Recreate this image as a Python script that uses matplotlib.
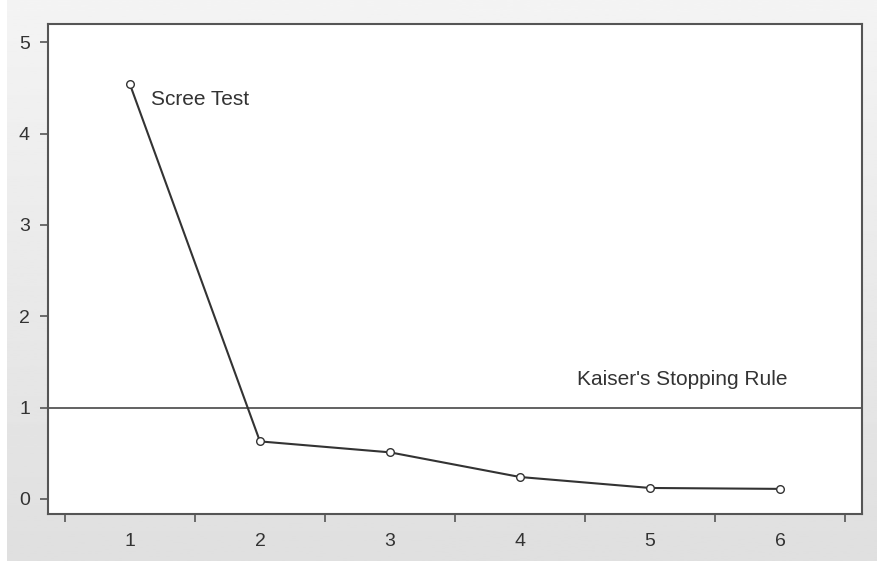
import numpy as np
import matplotlib.pyplot as plt

# eigenvalues per component
components = [1, 2, 3, 4, 5, 6]
eigenvalues = [4.54, 0.63, 0.51, 0.24, 0.12, 0.11]
kaiser_cutoff = 1.0

ink = '#333333'

fig = plt.figure(figsize=(8.78, 5.61), dpi=100, facecolor='white')

# soft grey panel behind the plot
bg = fig.add_axes([7 / 878, 0, 1 - 7 / 878, 1], zorder=-1)
grad = np.linspace(0.955, 0.875, 256).reshape(-1, 1)
bg.imshow(grad, aspect='auto', cmap='gray', vmin=0, vmax=1,
          extent=[0, 1, 0, 1])
bg.axis('off')

ax = fig.add_axes([48 / 878, 1 - 514 / 561, (862 - 48) / 878, (514 - 24) / 561])
ax.set_facecolor('white')

ax.plot(components, eigenvalues, color=ink, lw=1.5, marker='o', ms=5.5,
        mfc='white', mec=ink, mew=1.0, zorder=3)
ax.axhline(kaiser_cutoff, color='#555555', lw=1.3)

ax.text(1.16, 4.37, 'Scree Test', color=ink, fontsize=15,
        family='Liberation Sans', va='center')
ax.text(4.44, 1.31, "Kaiser's Stopping Rule", color=ink, fontsize=15,
        family='Liberation Sans', va='center')

ax.set_xlim(0.37, 6.63)
ax.set_ylim(-0.165, 5.2)

# ticks sit between components, labels on the components
ax.set_xticks(np.arange(0.5, 7, 1.0))
ax.set_xticklabels([])
ax.set_xticks(components, minor=True)
ax.set_xticklabels([str(c) for c in components], minor=True)
ax.tick_params(axis='x', which='major', length=6, width=1.2, color='#555555')
ax.tick_params(axis='x', which='minor', length=0, pad=14,
               labelsize=14, labelcolor=ink)

ax.set_yticks(range(0, 6))
ax.tick_params(axis='y', length=6, width=1.2, color='#555555',
               labelsize=14, labelcolor=ink, pad=7)

for lab in ax.get_xticklabels(minor=True) + ax.get_yticklabels():
    lab.set_family('Liberation Sans')

for s in ax.spines.values():
    s.set_color('#555555')
    s.set_linewidth(1.5)

fig.savefig('out.png', dpi=100, facecolor=fig.get_facecolor())
